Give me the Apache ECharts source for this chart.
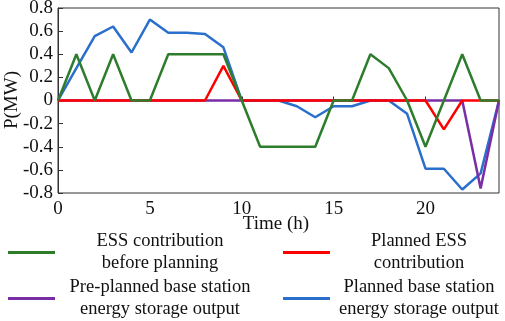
<!DOCTYPE html>
<html>
<head>
<meta charset="utf-8">
<script src="https://cdn.jsdelivr.net/npm/echarts@6/dist/echarts.min.js"></script>
<style>
  html, body { margin: 0; padding: 0; background: #fff; }
  #chart { width: 505px; height: 321px; }
</style>
</head>
<body>
<div id="chart"></div>
<script>
  // hours 0..24
  const hours = [0, 1, 2, 3, 4, 5, 6, 7, 8, 9, 10, 11, 12, 13, 14, 15, 16, 17, 18, 19, 20, 21, 22, 23, 24]
  const essBefore = [0, 0.4, 0, 0.4, 0, 0, 0.4, 0.4, 0.4, 0.4, 0, -0.4, -0.4, -0.4, -0.4, 0, 0, 0.4, 0.28, 0, -0.4, 0, 0.4, 0, 0]
  const essPlanned = [0, 0, 0, 0, 0, 0, 0, 0, 0, 0.3, 0, 0, 0, 0, 0, 0, 0, 0, 0, 0, 0, -0.25, 0, 0, 0]
  const bsPrePlanned = [0, 0, 0, 0, 0, 0, 0, 0, 0, 0, 0, 0, 0, 0, 0, 0, 0, 0, 0, 0, 0, 0, 0, -0.76, 0]
  const bsPlanned = [0, 0.28, 0.556, 0.64, 0.415, 0.7, 0.585, 0.585, 0.575, 0.46, 0, 0, 0, -0.05, -0.145, -0.05, -0.05, 0, 0, -0.115, -0.59, -0.59, -0.77, -0.63, 0]

  const names = [
    'ESS contribution\nbefore planning',
    'Planned ESS\ncontribution',
    'Pre-planned base station\nenergy storage output',
    'Planned base station\nenergy storage output'
  ]
  const colors = ['#2e7d2c', '#ff0000', '#7a2ea6', '#2a6fcb']
  const values = [essBefore, essPlanned, bsPrePlanned, bsPlanned]
  const zs = [5, 4, 3, 2]

  const font = 'Liberation Serif'

  function pairs(arr) {
    return hours.map((h, i) => [h, arr[i]])
  }

  function legendAt(name, left, top, w) {
    const lines = name.split('\n')
    return {
      data: [name],
      left: left,
      top: top,
      itemWidth: 47,
      itemHeight: 3,
      itemGap: 0,
      icon: 'rect',
      selectedMode: false,
      formatter: () => lines.map(l => '{a|' + l + '}').join('\n'),
      textStyle: {
        rich: {
          a: {
            width: w,
            align: 'center',
            fontFamily: font,
            fontSize: 18.5,
            lineHeight: 22,
            color: '#111'
          }
        }
      }
    }
  }

  const chart = echarts.init(document.getElementById('chart'))
  const option = {
    animation: false,
    textStyle: { fontFamily: font },
    grid: {
      left: 58,
      right: 6,
      top: 8,
      bottom: 128,
      outerBoundsMode: 'none',
      containLabel: false,
      show: true,
      borderColor: '#333',
      borderWidth: 1
    },
    legend: [
      legendAt(names[0], 3, 227, 200),
      legendAt(names[1], 278, 227, 168),
      legendAt(names[2], 3, 273, 200),
      legendAt(names[3], 278, 273, 168)
    ],
    // axis titles
    graphic: [
      {
        type: 'text', x: 12, y: 100, rotation: Math.PI / 2,
        style: { text: 'P(MW)', font: '19px "Liberation Serif"', fill: '#111', align: 'center', verticalAlign: 'middle' }
      },
      {
        type: 'text', x: 276, y: 224,
        style: { text: 'Time (h)', font: '19px "Liberation Serif"', fill: '#111', align: 'center', verticalAlign: 'middle' }
      }
    ],
    xAxis: {
      type: 'value',
      min: 0,
      max: 24,
      interval: 5,
      axisLine: { show: true, lineStyle: { color: '#333', width: 1 } },
      axisTick: { show: true, inside: true, length: 4, lineStyle: { color: '#333' } },
      axisLabel: { fontFamily: font, fontSize: 19, color: '#111', margin: 7, showMaxLabel: false },
      splitLine: { show: false }
    },
    yAxis: {
      type: 'value',
      min: -0.8,
      max: 0.8,
      interval: 0.2,
      axisLine: { show: true, lineStyle: { color: '#333', width: 1 } },
      axisTick: { show: true, inside: true, length: 5, lineStyle: { color: '#333' } },
      axisLabel: {
        fontFamily: font, fontSize: 19, color: '#111', margin: 5,
        formatter: v => String(Math.round(v * 10) / 10)
      },
      splitLine: { show: false }
    },
    series: names.map((n, i) => ({
      name: n,
      type: 'line',
      data: pairs(values[i]),
      showSymbol: false,
      symbol: 'none',
      z: zs[i],
      itemStyle: { color: colors[i] },
      lineStyle: { color: colors[i], width: 2.5 }
    }))
  }
  chart.setOption(option)
</script>
</body>
</html>
